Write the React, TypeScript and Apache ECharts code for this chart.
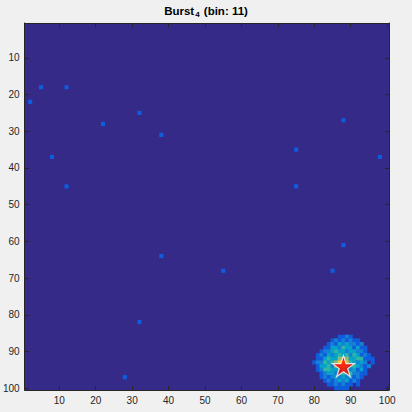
import React, { useEffect, useRef } from "react";
import * as echarts from "echarts";

// Grid is 100 x 100 cells (columns 1..100, rows 1..100)
const axisCategories: string[] = Array.from({ length: 100 }, (_, i) => String(i + 1));
const tickLabels = ["10", "20", "30", "40", "50", "60", "70", "80", "90", "100"];

// isolated single-count cells: [column, row]
const isolatedCells: [number, number][] = [
  [5, 18], [12, 18], [2, 22], [32, 25], [22, 28], [38, 31], [8, 37], [12, 45],
  [88, 27], [75, 35], [98, 37], [75, 45], [88, 61], [38, 64], [55, 68], [85, 68],
  [32, 82], [28, 97],
];
const isolatedValue = 1;

// burst cluster: rows 86..100, columns 80..96
const burstFirstCol = 80;
const burstFirstRow = 86;
const burstRows: number[][] = [
  [0, 0, 0, 0, 0, 0, 0, 1, 1, 2, 1, 0, 0, 0, 0, 0, 0],
  [0, 0, 0, 0, 0, 1, 2, 1, 2, 1, 2, 1, 1, 0, 0, 0, 0],
  [0, 0, 0, 0, 1, 2, 1, 3, 2, 3, 2, 2, 1, 2, 0, 0, 0],
  [0, 0, 0, 1, 1, 3, 3, 2, 4, 3, 3, 1, 3, 1, 1, 0, 0],
  [0, 0, 1, 2, 2, 3, 4, 3, 3, 2, 3, 3, 2, 2, 1, 0, 0],
  [0, 1, 2, 1, 3, 2, 3, 4, 3, 4, 2, 4, 3, 1, 2, 1, 0],
  [0, 1, 1, 3, 4, 3, 3, 5, 6, 5, 3, 3, 4, 4, 1, 1, 1],
  [1, 2, 2, 4, 3, 4, 5, 7, 8, 6, 4, 3, 2, 3, 2, 0, 1],
  [0, 1, 3, 3, 4, 2, 5, 6, 7, 5, 3, 4, 3, 2, 1, 2, 0],
  [0, 1, 2, 4, 4, 3, 3, 4, 5, 4, 2, 3, 1, 3, 1, 0, 0],
  [0, 0, 1, 2, 3, 3, 2, 3, 4, 3, 4, 2, 2, 1, 1, 0, 0],
  [0, 0, 1, 2, 1, 2, 3, 2, 3, 2, 3, 1, 2, 1, 0, 0, 0],
  [0, 0, 0, 1, 2, 1, 2, 3, 2, 3, 1, 2, 1, 0, 0, 0, 0],
  [0, 0, 0, 0, 1, 1, 2, 1, 2, 1, 1, 0, 1, 0, 0, 0, 0],
  [0, 0, 0, 0, 0, 0, 1, 1, 1, 1, 0, 0, 0, 0, 0, 0, 0],
];

// burst centre marker: [column, row]
const burstCentre: [number, number] = [88, 94];

const colorMin = 0;
const colorMax = 8;
const PARULA = ["#352a87", "#0f5cdd", "#1481d6", "#06a4ca", "#2eb7a4", "#87bf77", "#d1bb59", "#fec832", "#f9fb0e"];

const STAR =
  "path://M0,-1L0.2245,-0.309L0.9511,-0.309L0.3633,0.118L0.5878,0.809L0,0.382L-0.5878,0.809L-0.3633,0.118L-0.9511,-0.309L-0.2245,-0.309Z";

const FONT = "'Liberation Sans', Arial, Helvetica, sans-serif";
const AXIS_COLOR = "#262626";

function buildCells(): [number, number, number][] {
  const m = new Map<string, number>();
  for (const [c, r] of isolatedCells) m.set(c + "," + r, isolatedValue);
  burstRows.forEach((row, ri) =>
    row.forEach((v, ci) => {
      if (v > 0) m.set(burstFirstCol + ci + "," + (burstFirstRow + ri), v);
    })
  );
  const out: [number, number, number][] = [];
  m.forEach((v, k) => {
    const [c, r] = k.split(",").map(Number);
    out.push([c - 1, r - 1, v]);
  });
  return out;
}

const showTick = (index: number, value: string) => tickLabels.indexOf(value) >= 0;

export default function App() {
  const ref = useRef<HTMLDivElement>(null);
  useEffect(() => {
    if (!ref.current) return;
    const chart = echarts.init(ref.current, undefined, { renderer: "svg" });
    const tick = {
      show: true,
      inside: true,
      length: 4,
      alignWithLabel: true,
      interval: showTick,
      lineStyle: { color: AXIS_COLOR, width: 1 },
    };
    const line = { show: true, onZero: false, lineStyle: { color: AXIS_COLOR, width: 1 } };
    const label = {
      interval: showTick,
      color: AXIS_COLOR,
      fontSize: 10,
      fontFamily: FONT,
      margin: 5,
    };
    chart.setOption({
      animation: false,
      backgroundColor: "#f0f0f0",
      title: {
        text: "{b|Burst}{s|4}{b| (bin: 11)}",
        left: "center",
        top: -1,
        textStyle: {
          rich: {
            b: { fontFamily: FONT, fontSize: 11.5, fontWeight: "bold", color: "#000", lineHeight: 14 },
            s: {
              fontFamily: FONT,
              fontSize: 8,
              fontWeight: "bold",
              color: "#000",
              lineHeight: 14,
              verticalAlign: "bottom",
              padding: [6, 1, 0, 1],
            },
          },
        },
      },
      grid: {
        left: 22,
        right: 23,
        top: 23,
        bottom: 22,
        show: true,
        backgroundColor: PARULA[0],
        borderWidth: 0,
      },
      visualMap: {
        show: false,
        type: "continuous",
        min: colorMin,
        max: colorMax,
        seriesIndex: 0,
        inRange: { color: PARULA },
      },
      xAxis: [
        {
          type: "category",
          data: axisCategories,
          position: "bottom",
          axisLine: line,
          axisTick: tick,
          axisLabel: label,
          splitLine: { show: false },
        },
        {
          type: "category",
          data: axisCategories,
          position: "top",
          axisLine: line,
          axisTick: tick,
          axisLabel: { show: false },
          splitLine: { show: false },
        },
      ],
      yAxis: [
        {
          type: "category",
          data: axisCategories,
          inverse: true,
          position: "left",
          axisLine: line,
          axisTick: tick,
          axisLabel: label,
          splitLine: { show: false },
        },
        {
          type: "category",
          data: axisCategories,
          inverse: true,
          position: "right",
          axisLine: line,
          axisTick: tick,
          axisLabel: { show: false },
          splitLine: { show: false },
        },
      ],
      series: [
        {
          type: "heatmap",
          xAxisIndex: 0,
          yAxisIndex: 0,
          data: buildCells(),
          itemStyle: { borderWidth: 0 },
          emphasis: { disabled: true },
        },
        {
          type: "scatter",
          xAxisIndex: 0,
          yAxisIndex: 0,
          symbol: STAR,
          symbolKeepAspect: true,
          symbolSize: 22,
          data: [[burstCentre[0] - 1, burstCentre[1] - 1]],
          itemStyle: { color: "#ff0000", borderColor: "#ffffff", borderWidth: 1.2 },
          z: 5,
        },
      ],
    });
    return () => chart.dispose();
  }, []);
  return (
    <div
      ref={ref}
      style={{ position: "fixed", left: 0, top: 0, width: 412, height: 412, background: "#f0f0f0" }}
    />
  );
}
